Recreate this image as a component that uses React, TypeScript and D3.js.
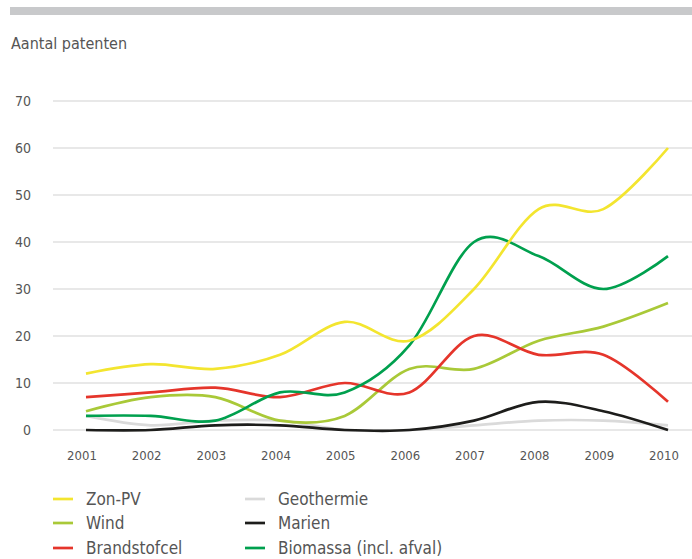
import React from "react";
import * as d3 from "d3";

const years = [2001, 2002, 2003, 2004, 2005, 2006, 2007, 2008, 2009, 2010];
const yTicks = [0, 10, 20, 30, 40, 50, 60, 70];

const zonPV = [12, 14, 13, 16, 23, 19, 30, 47, 47, 60];
const wind = [4, 7, 7, 2, 3, 13, 13, 19, 22, 27];
const brandstofcel = [7, 8, 9, 7, 10, 8, 20, 16, 16, 6];
const geothermie = [3, 1, 2, 2, 0, 0, 1, 2, 2, 1];
const marien = [0, 0, 1, 1, 0, 0, 2, 6, 4, 0];
const biomassa = [3, 3, 2, 8, 8, 18, 40, 37, 30, 37];

const seriesNames = ["Zon-PV", "Wind", "Brandstofcel", "Geothermie", "Marien", "Biomassa (incl. afval)"];
const seriesValues = [zonPV, wind, brandstofcel, geothermie, marien, biomassa];
const seriesColors = ["#f3e52f", "#a9c938", "#e5352b", "#dadada", "#1d1d1b", "#00a04e"];
const drawOrder = [3, 4, 1, 2, 5, 0];

const W = 692;
const H = 559;
const FONT = "'Liberation Sans Narrow', 'DejaVu Sans Condensed', 'Liberation Sans', sans-serif";

export default function App() {
  const x = d3.scalePoint<number>().domain(years).range([86, 668]);
  const y = d3.scaleLinear().domain([0, 70]).range([430, 101]);
  const line = d3
    .line<number>()
    .x((_, i) => x(years[i]) as number)
    .y((d) => y(d))
    .curve(d3.curveCardinal.tension(0));

  const legendCols = [
    { sx: 53, tx: 86 },
    { sx: 245, tx: 278 },
  ];
  const legendRowsY = [499, 523, 548];

  return (
    <svg
      width={W}
      height={H}
      style={{ position: "absolute", left: 0, top: 0, background: "#fff" }}
      fontFamily={FONT}
    >
      <rect x={10} y={7} width={W - 10} height={8} fill="#c8c9cb" />
      <text x={11} y={49} fontSize={16} fill="#555">
        Aantal patenten
      </text>
      {yTicks.map((t) => (
        <g key={t}>
          <line x1={53} x2={W} y1={y(t)} y2={y(t)} stroke="#d2d2d2" strokeWidth={1.2} />
          <text x={31} y={y(t)} dy="0.35em" textAnchor="end" fontSize={14} fill="#555">
            {t}
          </text>
        </g>
      ))}
      {years.map((yr) => (
        <text key={yr} x={(x(yr) as number) - 4} y={455} dy="0.35em" textAnchor="middle" fontSize={13} fill="#555">
          {yr}
        </text>
      ))}
      {drawOrder.map((i) => (
        <path
          key={seriesNames[i]}
          d={line(seriesValues[i]) || ""}
          fill="none"
          stroke={seriesColors[i]}
          strokeWidth={2.7}
          strokeLinejoin="round"
          strokeLinecap="butt"
        />
      ))}
      {seriesNames.map((name, i) => {
        const col = legendCols[Math.floor(i / 3)];
        const ry = legendRowsY[i % 3];
        return (
          <g key={name}>
            <line x1={col.sx} x2={col.sx + 20} y1={ry} y2={ry} stroke={seriesColors[i]} strokeWidth={2.7} />
            <text x={col.tx} y={ry} dy="0.35em" fontSize={17} fill="#555">
              {name}
            </text>
          </g>
        );
      })}
    </svg>
  );
}
